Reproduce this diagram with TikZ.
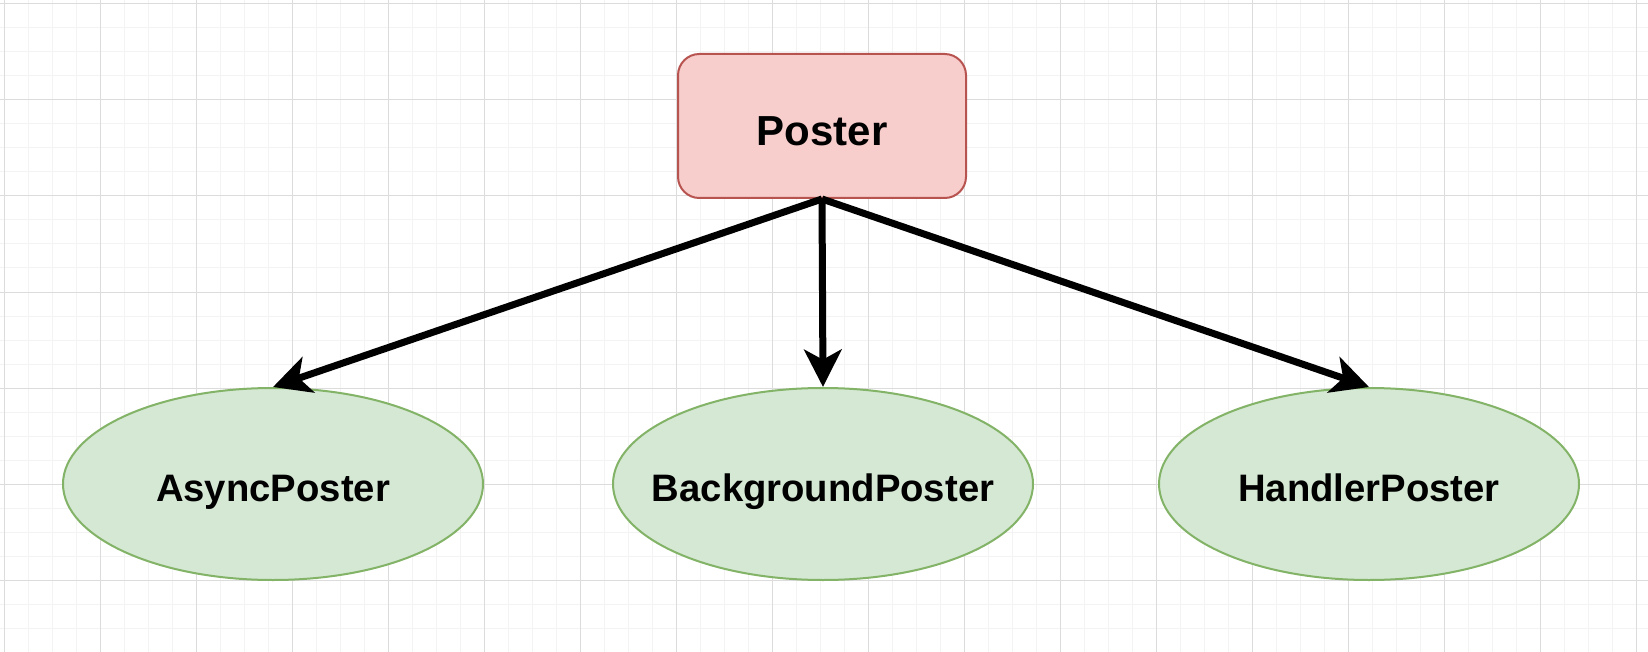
\documentclass[tikz,border=0pt]{standalone}
\usepackage{fontspec}
\setmainfont{Liberation Sans}
\usetikzlibrary{arrows.meta,shapes.geometric}
\definecolor{posterfill}{HTML}{F8CECC}
\definecolor{posterline}{HTML}{B85450}
\definecolor{kindfill}{HTML}{D5E8D4}
\definecolor{kindline}{HTML}{82B366}
\definecolor{gridminor}{HTML}{F3F3F3}
\definecolor{gridmajor}{HTML}{DCDCDC}
\tikzset{
  base/.style={draw=posterline,fill=posterfill,line width=1.5pt,
    rounded corners=16pt,inner sep=0pt,
    minimum width=216pt,minimum height=108pt,
    text height=31pt,text depth=2.4pt,
    font=\fontsize{31.5}{36}\selectfont\bfseries},
  kind/.style={ellipse,draw=kindline,fill=kindfill,line width=1.5pt,
    inner ysep=0pt,inner xsep=-24pt,minimum width=315pt,minimum height=144pt,
    text height=29pt,text depth=2.6pt,
    font=\fontsize{28.7}{33}\selectfont\bfseries},
}
\begin{document}
\begin{tikzpicture}[x=0.75pt,y=-0.75pt]
      \useasboundingbox (0,0) rectangle (1648,652);
      \fill[white] (0,0) rectangle (1648,652);
      % grid
      \foreach \g in {4,28,...,1648} \draw[gridminor,line width=0.75pt] (\g,0) -- (\g,652);
      \foreach \g in {4,28,...,652} \draw[gridminor,line width=0.75pt] (0,\g) -- (1648,\g);
      \foreach \g in {4,100,...,1648} \draw[gridmajor,line width=0.75pt] (\g,0) -- (\g,652);
      \foreach \g in {4,100,...,652} \draw[gridmajor,line width=0.75pt] (0,\g) -- (1648,\g);
      \draw
        (822,126) node[base] (poster){Poster}
        (273,484) node[kind] (async){AsyncPoster}
        (823,484) node[kind] (background){BackgroundPoster}
        (1369,484) node[kind] (handler){HandlerPoster};
      \begin{scope}[-{Stealth[length=28pt,width=28pt,inset=7.5pt]},line width=5.25pt]
        \draw (poster.south) to (async.north);
        \draw (poster.south) to (background.north);
        \draw (poster.south) to (handler.north);
      \end{scope}
    \end{tikzpicture}
\end{document}
